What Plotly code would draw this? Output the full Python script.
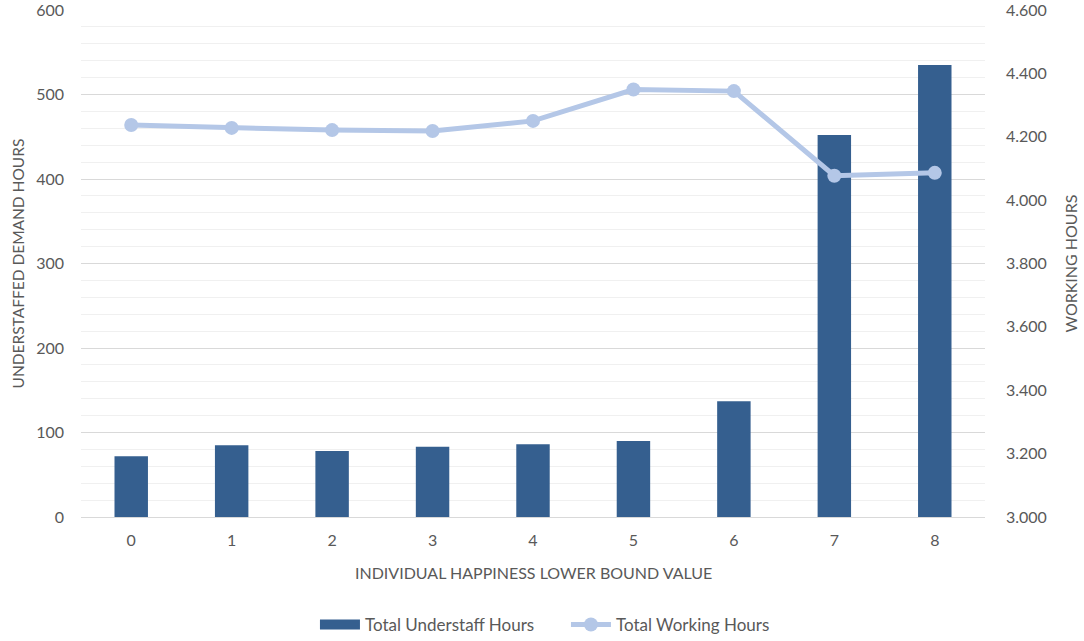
import plotly.graph_objects as go

categories = ["0", "1", "2", "3", "4", "5", "6", "7", "8"]
understaff_hours = [72, 85, 78, 83, 86, 90, 137, 452, 535]
working_hours = [4237, 4228, 4221, 4218, 4250, 4349, 4344, 4077, 4086]

BAR_COLOR = "#355F8F"
LINE_COLOR = "#B4C7E7"
TEXT_COLOR = "#595959"
FONT = "Lato, Carlito, 'Liberation Sans', sans-serif"

fig = go.Figure()
fig.add_trace(go.Bar(
    x=categories, y=understaff_hours, name="Total Understaff Hours",
    marker=dict(color=BAR_COLOR, line=dict(width=0)), yaxis="y",
    showlegend=False, legendgroup="bars",
))
# legend entry for the bars, drawn as a wide swatch like the original
fig.add_trace(go.Scatter(
    x=[None], y=[None], name="Total Understaff Hours", mode="lines",
    line=dict(color=BAR_COLOR, width=11), legendgroup="bars", yaxis="y",
))
fig.add_trace(go.Scatter(
    x=categories, y=working_hours, name="Total Working Hours",
    mode="lines+markers", yaxis="y2",
    line=dict(color=LINE_COLOR, width=5),
    marker=dict(color=LINE_COLOR, size=14),
))

fig.update_layout(
    width=1084, height=641,
    margin=dict(l=81, r=99, t=10, b=124, autoexpand=False),
    paper_bgcolor="white", plot_bgcolor="white",
    separators=",.",
    font=dict(family=FONT, size=16, color=TEXT_COLOR),
    bargap=0.667,
    showlegend=True,
    legend=dict(orientation="h", x=0.2588, xanchor="left", y=-0.213, yanchor="middle",
                font=dict(size=17, color=TEXT_COLOR), traceorder="normal",
                itemwidth=40, entrywidth=196, entrywidthmode="pixels"),
    xaxis=dict(
        type="category", range=[-0.5, 8.5], automargin=False,
        showgrid=False, showline=False, zeroline=False, ticks="",
        ticklabelstandoff=12,
        tickfont=dict(size=16, color=TEXT_COLOR),
    ),
    yaxis=dict(
        range=[0, 600], dtick=100, tick0=0, automargin=False,
        showgrid=True, gridcolor="#D9D9D9", gridwidth=1,
        zeroline=True, zerolinecolor="#D9D9D9", zerolinewidth=1,
        showline=False, ticks="", ticklabelstandoff=16,
        ticklabeloverflow="allow",
        minor=dict(dtick=20, showgrid=True, gridcolor="#F0F0F0", gridwidth=1),
        tickfont=dict(size=16, color=TEXT_COLOR),
    ),
    yaxis2=dict(
        overlaying="y", side="right", automargin=False,
        range=[3000, 4600], dtick=200, tick0=3000, tickformat=",d",
        showgrid=False, zeroline=False, showline=False, ticks="",
        ticklabelstandoff=20, ticklabeloverflow="allow",
        tickfont=dict(size=16, color=TEXT_COLOR),
    ),
    annotations=[
        dict(text="INDIVIDUAL HAPPINESS LOWER BOUND VALUE", xref="paper", yref="paper",
             x=0.5, y=-0.1085, xanchor="center", yanchor="middle", showarrow=False,
             font=dict(size=16, color=TEXT_COLOR)),
        dict(text="UNDERSTAFFED DEMAND HOURS", xref="paper", yref="paper",
             x=-0.0697, y=0.5, xanchor="center", yanchor="middle", showarrow=False,
             textangle=-90, font=dict(size=15.5, color=TEXT_COLOR)),
        dict(text="WORKING HOURS", xref="paper", yref="paper",
             x=1.0951, y=0.5, xanchor="center", yanchor="middle", showarrow=False,
             textangle=-90, font=dict(size=16, color=TEXT_COLOR)),
    ],
)

fig.write_html("out.html")
